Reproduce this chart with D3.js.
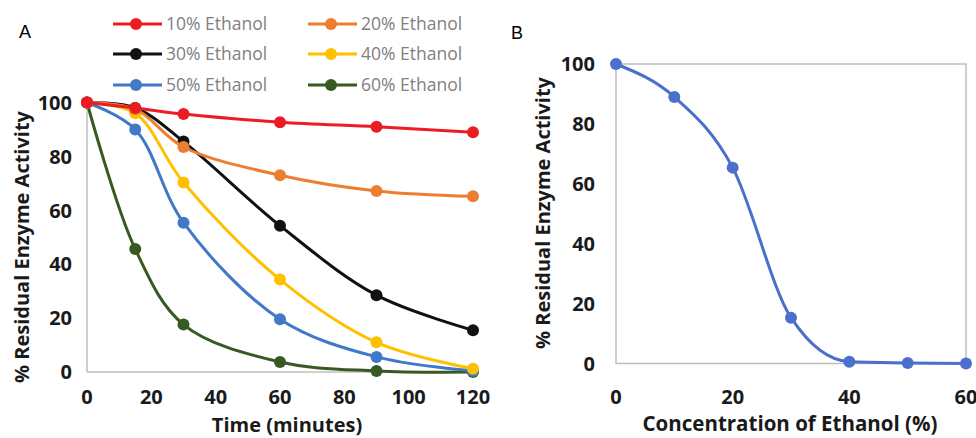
<!DOCTYPE html>
<html>
<head>
<meta charset="utf-8">
<script src="https://cdn.jsdelivr.net/npm/d3@7"></script>
<style>
  body { margin: 0; background: #fff; }
  text { font-family: 'Open Sans', sans-serif; }
</style>
</head>
<body>
<div id="vis"></div>
<script>

var width = 976,
  height = 438;

// Panel A data: time course at each ethanol concentration
var times = [ 0, 15, 30, 60, 90, 120 ];
var seriesNames = [ '10% Ethanol', '20% Ethanol', '30% Ethanol', '40% Ethanol', '50% Ethanol', '60% Ethanol' ];
var seriesColors = [ '#ec1c24', '#ed7d31', '#111111', '#ffc000', '#4178c8', '#375a22' ];
var ethanol10 = [ 100, 98, 95.7, 92.7, 91, 89 ];
var ethanol20 = [ 100, 97.5, 83.5, 73, 67.2, 65.2 ];
var ethanol30 = [ 100, 98, 85.5, 54.3, 28.5, 15.5 ];
var ethanol40 = [ 100, 96, 70.3, 34.3, 11, 1.2 ];
var ethanol50 = [ 100, 90, 55.4, 19.6, 5.6, 0.4 ];
var ethanol60 = [ 100, 45.6, 17.6, 3.7, 0.4, 0 ];
var timeTicks = [ 0, 20, 40, 60, 80, 100, 120 ];

// Panel B data: residual activity vs concentration
var concentrations = [ 0, 10, 20, 30, 40, 50, 60 ];
var residual = [ 100, 89, 65.4, 15.3, 0.6, 0.2, 0 ];
var concTicks = [ 0, 20, 40, 60 ];

var activityTicks = [ 0, 20, 40, 60, 80, 100 ];

var seriesA = [ ethanol10, ethanol20, ethanol30, ethanol40, ethanol50, ethanol60 ];

var svg = d3.select( '#vis' ).append( 'svg' )
  .attr( 'width', width )
  .attr( 'height', height );

/* Panel A */

var xA = d3.scaleLinear().domain( [ 0, 120 ] ).range( [ 87, 473 ] );
var yA = d3.scaleLinear().domain( [ 0, 100 ] ).range( [ 372, 102.5 ] );

svg.append( 'text' )
  .attr( 'x', 19 ).attr( 'y', 38 )
  .style( 'font-family', 'Liberation Sans, Arial, sans-serif' )
  .style( 'font-size', '18px' )
  .text( 'A' );

svg.append( 'line' )
  .attr( 'x1', xA( 0 ) ).attr( 'x2', xA( 0 ) )
  .attr( 'y1', yA( 100 ) ).attr( 'y2', yA( 0 ) )
  .attr( 'stroke', '#bfbfbf' ).attr( 'stroke-width', 1.5 );

svg.append( 'line' )
  .attr( 'x1', xA( 0 ) ).attr( 'x2', xA( 120 ) )
  .attr( 'y1', yA( 0 ) ).attr( 'y2', yA( 0 ) )
  .attr( 'stroke', '#bfbfbf' ).attr( 'stroke-width', 1.5 );

svg.selectAll( 'text.ytickA' )
  .data( activityTicks )
  .enter().append( 'text' )
    .attr( 'class', 'ytickA' )
    .attr( 'x', 72 )
    .attr( 'y', d => yA( d ) )
    .attr( 'dy', '0.36em' )
    .attr( 'text-anchor', 'end' )
    .style( 'font-size', '20px' )
    .style( 'font-weight', 'bold' )
    .attr( 'fill', '#1a1a1a' )
    .text( d => d );

svg.selectAll( 'text.xtickA' )
  .data( timeTicks )
  .enter().append( 'text' )
    .attr( 'class', 'xtickA' )
    .attr( 'x', d => xA( d ) )
    .attr( 'y', 397 )
    .attr( 'dy', '0.36em' )
    .attr( 'text-anchor', 'middle' )
    .style( 'font-size', '20px' )
    .style( 'font-weight', 'bold' )
    .attr( 'fill', '#1a1a1a' )
    .text( d => d );

svg.append( 'text' )
  .attr( 'x', 287 ).attr( 'y', 432 )
  .attr( 'text-anchor', 'middle' )
  .style( 'font-size', '20px' )
  .style( 'font-weight', 'bold' )
  .attr( 'fill', '#1a1a1a' )
  .text( 'Time (minutes)' );

svg.append( 'text' )
  .attr( 'transform', 'translate(29,247)rotate(-90)' )
  .attr( 'text-anchor', 'middle' )
  .style( 'font-size', '20px' )
  .style( 'font-weight', 'bold' )
  .attr( 'fill', '#1a1a1a' )
  .text( '% Residual Enzyme Activity' );

var lineA = d3.line()
  .x( ( d, i ) => xA( times[ i ] ) )
  .y( d => yA( d ) )
  .curve( d3.curveCatmullRom.alpha( 0.5 ) );

// draw from last to first so 10% sits on top like the original
var order = [ 5, 4, 3, 2, 1, 0 ];

order.forEach( s => {
  svg.append( 'path' )
    .datum( seriesA[ s ] )
      .attr( 'd', lineA )
      .attr( 'fill', 'none' )
      .attr( 'stroke', seriesColors[ s ] )
      .attr( 'stroke-width', 3 );

  svg.selectAll( 'circle.s' + s )
    .data( seriesA[ s ] )
    .enter().append( 'circle' )
      .attr( 'class', 's' + s )
      .attr( 'cx', ( d, i ) => xA( times[ i ] ) )
      .attr( 'cy', d => yA( d ) )
      .attr( 'r', 6 )
      .attr( 'fill', seriesColors[ s ] );
} );

// Legend
var legendX = [ 113, 308 ],
  legendY = [ 24, 54, 85 ];

var legend = svg.selectAll( 'g.legend' )
  .data( seriesNames )
  .enter().append( 'g' )
    .attr( 'class', 'legend' )
    .attr( 'transform', ( d, i ) => 'translate(' + legendX[ i % 2 ] + ',' + legendY[ Math.floor( i / 2 ) ] + ')' );

legend.append( 'line' )
  .attr( 'x1', 0 ).attr( 'x2', 49 )
  .attr( 'stroke', ( d, i ) => seriesColors[ i ] )
  .attr( 'stroke-width', 3 );

legend.append( 'circle' )
  .attr( 'cx', 23 )
  .attr( 'r', 6 )
  .attr( 'fill', ( d, i ) => seriesColors[ i ] );

legend.append( 'text' )
  .attr( 'x', 53 )
  .attr( 'dy', '0.36em' )
  .style( 'font-size', '17.5px' )
  .attr( 'fill', '#808080' )
  .text( d => d );

/* Panel B */

var xB = d3.scaleLinear().domain( [ 0, 60 ] ).range( [ 616, 966 ] );
var yB = d3.scaleLinear().domain( [ 0, 100 ] ).range( [ 363.5, 64 ] );

svg.append( 'text' )
  .attr( 'x', 511 ).attr( 'y', 39 )
  .style( 'font-family', 'Liberation Sans, Arial, sans-serif' )
  .style( 'font-size', '18px' )
  .text( 'B' );

svg.append( 'rect' )
  .attr( 'x', xB( 0 ) ).attr( 'y', yB( 100 ) )
  .attr( 'width', xB( 60 ) - xB( 0 ) )
  .attr( 'height', yB( 0 ) - yB( 100 ) )
  .attr( 'fill', 'none' )
  .attr( 'stroke', '#bfbfbf' )
  .attr( 'stroke-width', 1.5 );

svg.selectAll( 'text.ytickB' )
  .data( activityTicks )
  .enter().append( 'text' )
    .attr( 'class', 'ytickB' )
    .attr( 'x', 595 )
    .attr( 'y', d => yB( d ) )
    .attr( 'dy', '0.36em' )
    .attr( 'text-anchor', 'end' )
    .style( 'font-size', '20px' )
    .style( 'font-weight', 'bold' )
    .attr( 'fill', '#1a1a1a' )
    .text( d => d );

svg.selectAll( 'text.xtickB' )
  .data( concTicks )
  .enter().append( 'text' )
    .attr( 'class', 'xtickB' )
    .attr( 'x', d => xB( d ) )
    .attr( 'y', 397 )
    .attr( 'dy', '0.36em' )
    .attr( 'text-anchor', 'middle' )
    .style( 'font-size', '20px' )
    .style( 'font-weight', 'bold' )
    .attr( 'fill', '#1a1a1a' )
    .text( d => d );

svg.append( 'text' )
  .attr( 'x', 790 ).attr( 'y', 424 )
  .attr( 'dy', '0.36em' )
  .attr( 'text-anchor', 'middle' )
  .style( 'font-size', '20.5px' )
  .style( 'font-weight', 'bold' )
  .attr( 'fill', '#1a1a1a' )
  .text( 'Concentration of Ethanol (%)' );

svg.append( 'text' )
  .attr( 'transform', 'translate(550,213)rotate(-90)' )
  .attr( 'text-anchor', 'middle' )
  .style( 'font-size', '20px' )
  .style( 'font-weight', 'bold' )
  .attr( 'fill', '#1a1a1a' )
  .text( '% Residual Enzyme Activity' );

var lineB = d3.line()
  .x( ( d, i ) => xB( concentrations[ i ] ) )
  .y( d => yB( d ) )
  .curve( d3.curveMonotoneX );

svg.append( 'path' )
  .datum( residual )
    .attr( 'd', lineB )
    .attr( 'fill', 'none' )
    .attr( 'stroke', '#4a6fcc' )
    .attr( 'stroke-width', 3 );

svg.selectAll( 'circle.b' )
  .data( residual )
  .enter().append( 'circle' )
    .attr( 'class', 'b' )
    .attr( 'cx', ( d, i ) => xB( concentrations[ i ] ) )
    .attr( 'cy', d => yB( d ) )
    .attr( 'r', 6 )
    .attr( 'fill', '#4a6fcc' );

</script>
</body>
</html>
